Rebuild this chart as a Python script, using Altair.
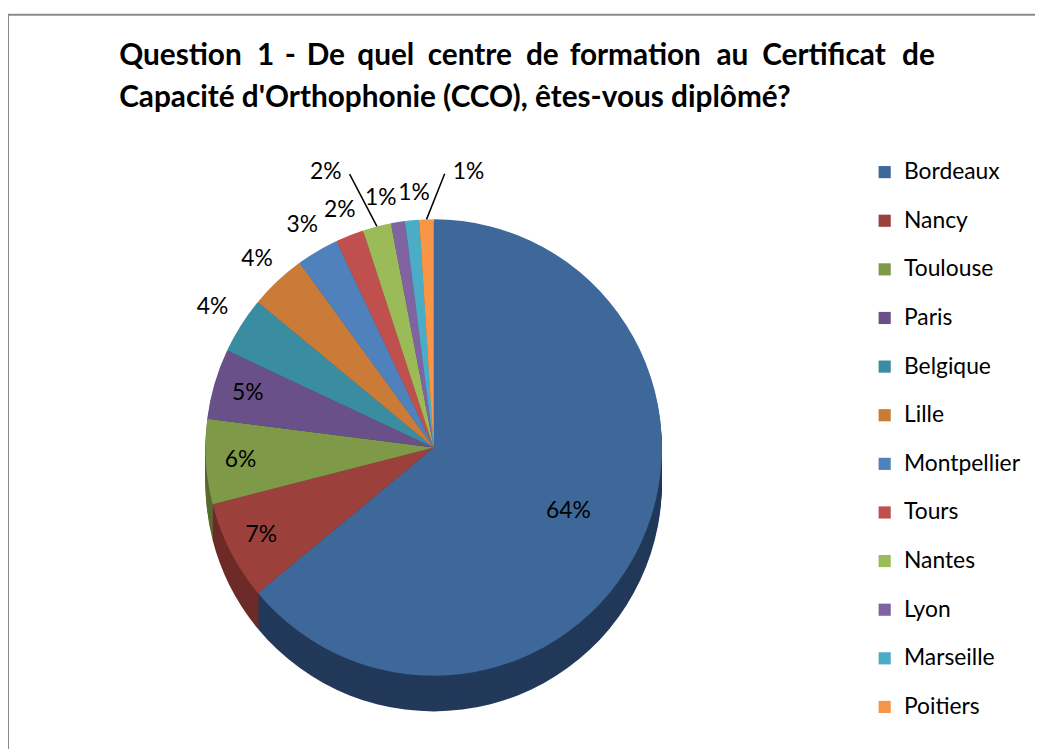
import altair as alt
import pandas as pd

# ---- data ----
cats = ["Bordeaux", "Nancy", "Toulouse", "Paris", "Belgique", "Lille",
        "Montpellier", "Tours", "Nantes", "Lyon", "Marseille", "Poitiers"]
values = [64, 7, 6, 5, 4, 4, 3, 2, 2, 1, 1, 1]
title_words_1 = ["Question", "1", "-", "De", "quel", "centre", "de", "formation",
                 "au", "Certificat", "de"]
title_line_2 = "Capacité d'Orthophonie (CCO), êtes-vous diplômé?"

# ---- styles ----
title_word_x = [112, 251, 279, 301, 352, 423, 522, 566, 714, 760, 901]  # justified line 1
top_colors = ["#3d6899", "#9c403c", "#7e9a48", "#6a5088", "#3a8ca0", "#cb7b38",
              "#4f81bd", "#c0504d", "#9bbb59", "#8064a2", "#4bacc6", "#f79646"]
side_colors = ["#22395a", "#6e2b29", "#586b32", "#4a385f", "#286170", "#8e5527",
               "#375a84", "#863835", "#6c833e", "#594671", "#34788a", "#ad6931"]
label_radius = [150, 195, 195, 195, 264, 260, 260, 257, 298, 257, 257, 280]
label_shift = [0, 0, 0, 0, 0, 0, 0, 0, -7, -3, 1, 9]
leader = [0, 0, 0, 0, 0, 0, 0, 0, 1, 0, 0, 1]

CX, CY, R, DEPTH = 429, 440, 230, 36
FONT = "Lato"
TFS = 30

df = pd.DataFrame({
    "idx": list(range(len(cats))),
    "name": cats,
    "value": values,
    "label": [f"{v}%" for v in values],
    "lr": label_radius,
    "shift": label_shift,
    "leader": leader,
})

color_top = alt.Color(
    "name:N",
    scale=alt.Scale(domain=cats, range=top_colors),
    legend=alt.Legend(
        title=None, orient="none", legendX=872, legendY=151,
        symbolType="square", symbolSize=150, symbolStrokeWidth=0,
        labelFont=FONT, labelFontSize=23, labelColor="#000000",
        rowPadding=25, labelOffset=8, padding=0,
    ),
)

base = alt.Chart(df)

layers = []
# side (thickness) of the pie
for d in range(DEPTH, 0, -2):
    layers.append(
        base.mark_arc(radius=R, stroke=None).encode(
            theta=alt.Theta("value:Q", stack=True),
            order=alt.Order("idx:Q"),
            color=alt.Color("name:N", scale=alt.Scale(domain=cats, range=side_colors), legend=None),
            x=alt.value(CX), y=alt.value(CY + d),
        )
    )

top = base.mark_arc(radius=R, stroke=None).encode(
    theta=alt.Theta("value:Q", stack=True),
    order=alt.Order("idx:Q"),
    color=color_top,
    x=alt.value(CX), y=alt.value(CY),
)

calc = base.transform_window(
    cum="sum(value)", sort=[alt.SortField("idx")], frame=[None, 0]
).transform_joinaggregate(
    total="sum(value)"
).transform_calculate(
    mid="2*PI*(datum.cum - datum.value/2)/datum.total",
).transform_calculate(
    lt="datum.mid + datum.shift*PI/180",
)

texts = calc.mark_text(font=FONT, fontSize=23, color="#000000",
                       align="center", baseline="middle").encode(
    theta=alt.Theta("lt:Q", scale=None, stack=False),
    radius=alt.Radius("lr:Q", scale=None),
    text="label:N",
    x=alt.value(CX), y=alt.value(CY),
)

leaders = calc.transform_filter("datum.leader == 1").transform_calculate(
    ex=f"{CX} + {R}*sin(datum.mid)",
    ey=f"{CY} - {R}*cos(datum.mid)",
    lx=f"{CX} + datum.lr*sin(datum.lt)",
    ly=f"{CY} - datum.lr*cos(datum.lt)",
).transform_calculate(
    sx="datum.lx < datum.ex ? datum.lx + 24 : datum.lx - 24",
    sy="datum.ly + 2",
).mark_rule(color="#000000", strokeWidth=1.5).encode(
    x=alt.X("ex:Q", scale=None), y=alt.Y("ey:Q", scale=None),
    x2="sx:Q", y2="sy:Q",
)

title_layers = []
for w, xw in zip(title_words_1, title_word_x):
    title_layers.append(
        alt.Chart(pd.DataFrame({"t": [w]})).mark_text(
            font=FONT, fontSize=TFS, fontWeight="bold", align="left",
            baseline="alphabetic", color="#000000"
        ).encode(text="t:N", x=alt.value(xw), y=alt.value(55))
    )
title_layers.append(
    alt.Chart(pd.DataFrame({"t": [title_line_2]})).mark_text(
        font=FONT, fontSize=TFS, fontWeight="bold", align="left",
        baseline="alphabetic", color="#000000"
    ).encode(text="t:N", x=alt.value(112), y=alt.value(97))
)

border = alt.Chart(pd.DataFrame({"a": [0]})).mark_rule(color="#8a8a8a", strokeWidth=2).encode(
    x=alt.value(0), x2=alt.value(0), y=alt.value(4), y2=alt.value(744)
)
border2 = alt.Chart(pd.DataFrame({"a": [0]})).mark_rule(color="#8a8a8a", strokeWidth=2).encode(
    x=alt.value(0), x2=alt.value(1040), y=alt.value(4), y2=alt.value(4)
)

chart = alt.layer(*layers, top, leaders, texts, *title_layers, border, border2).resolve_scale(
    color="independent"
).properties(
    width=1035, height=744, autosize="none", padding=0
).configure_view(stroke=None)

chart.save("out.html", embed_options={"renderer": "svg", "actions": False})
